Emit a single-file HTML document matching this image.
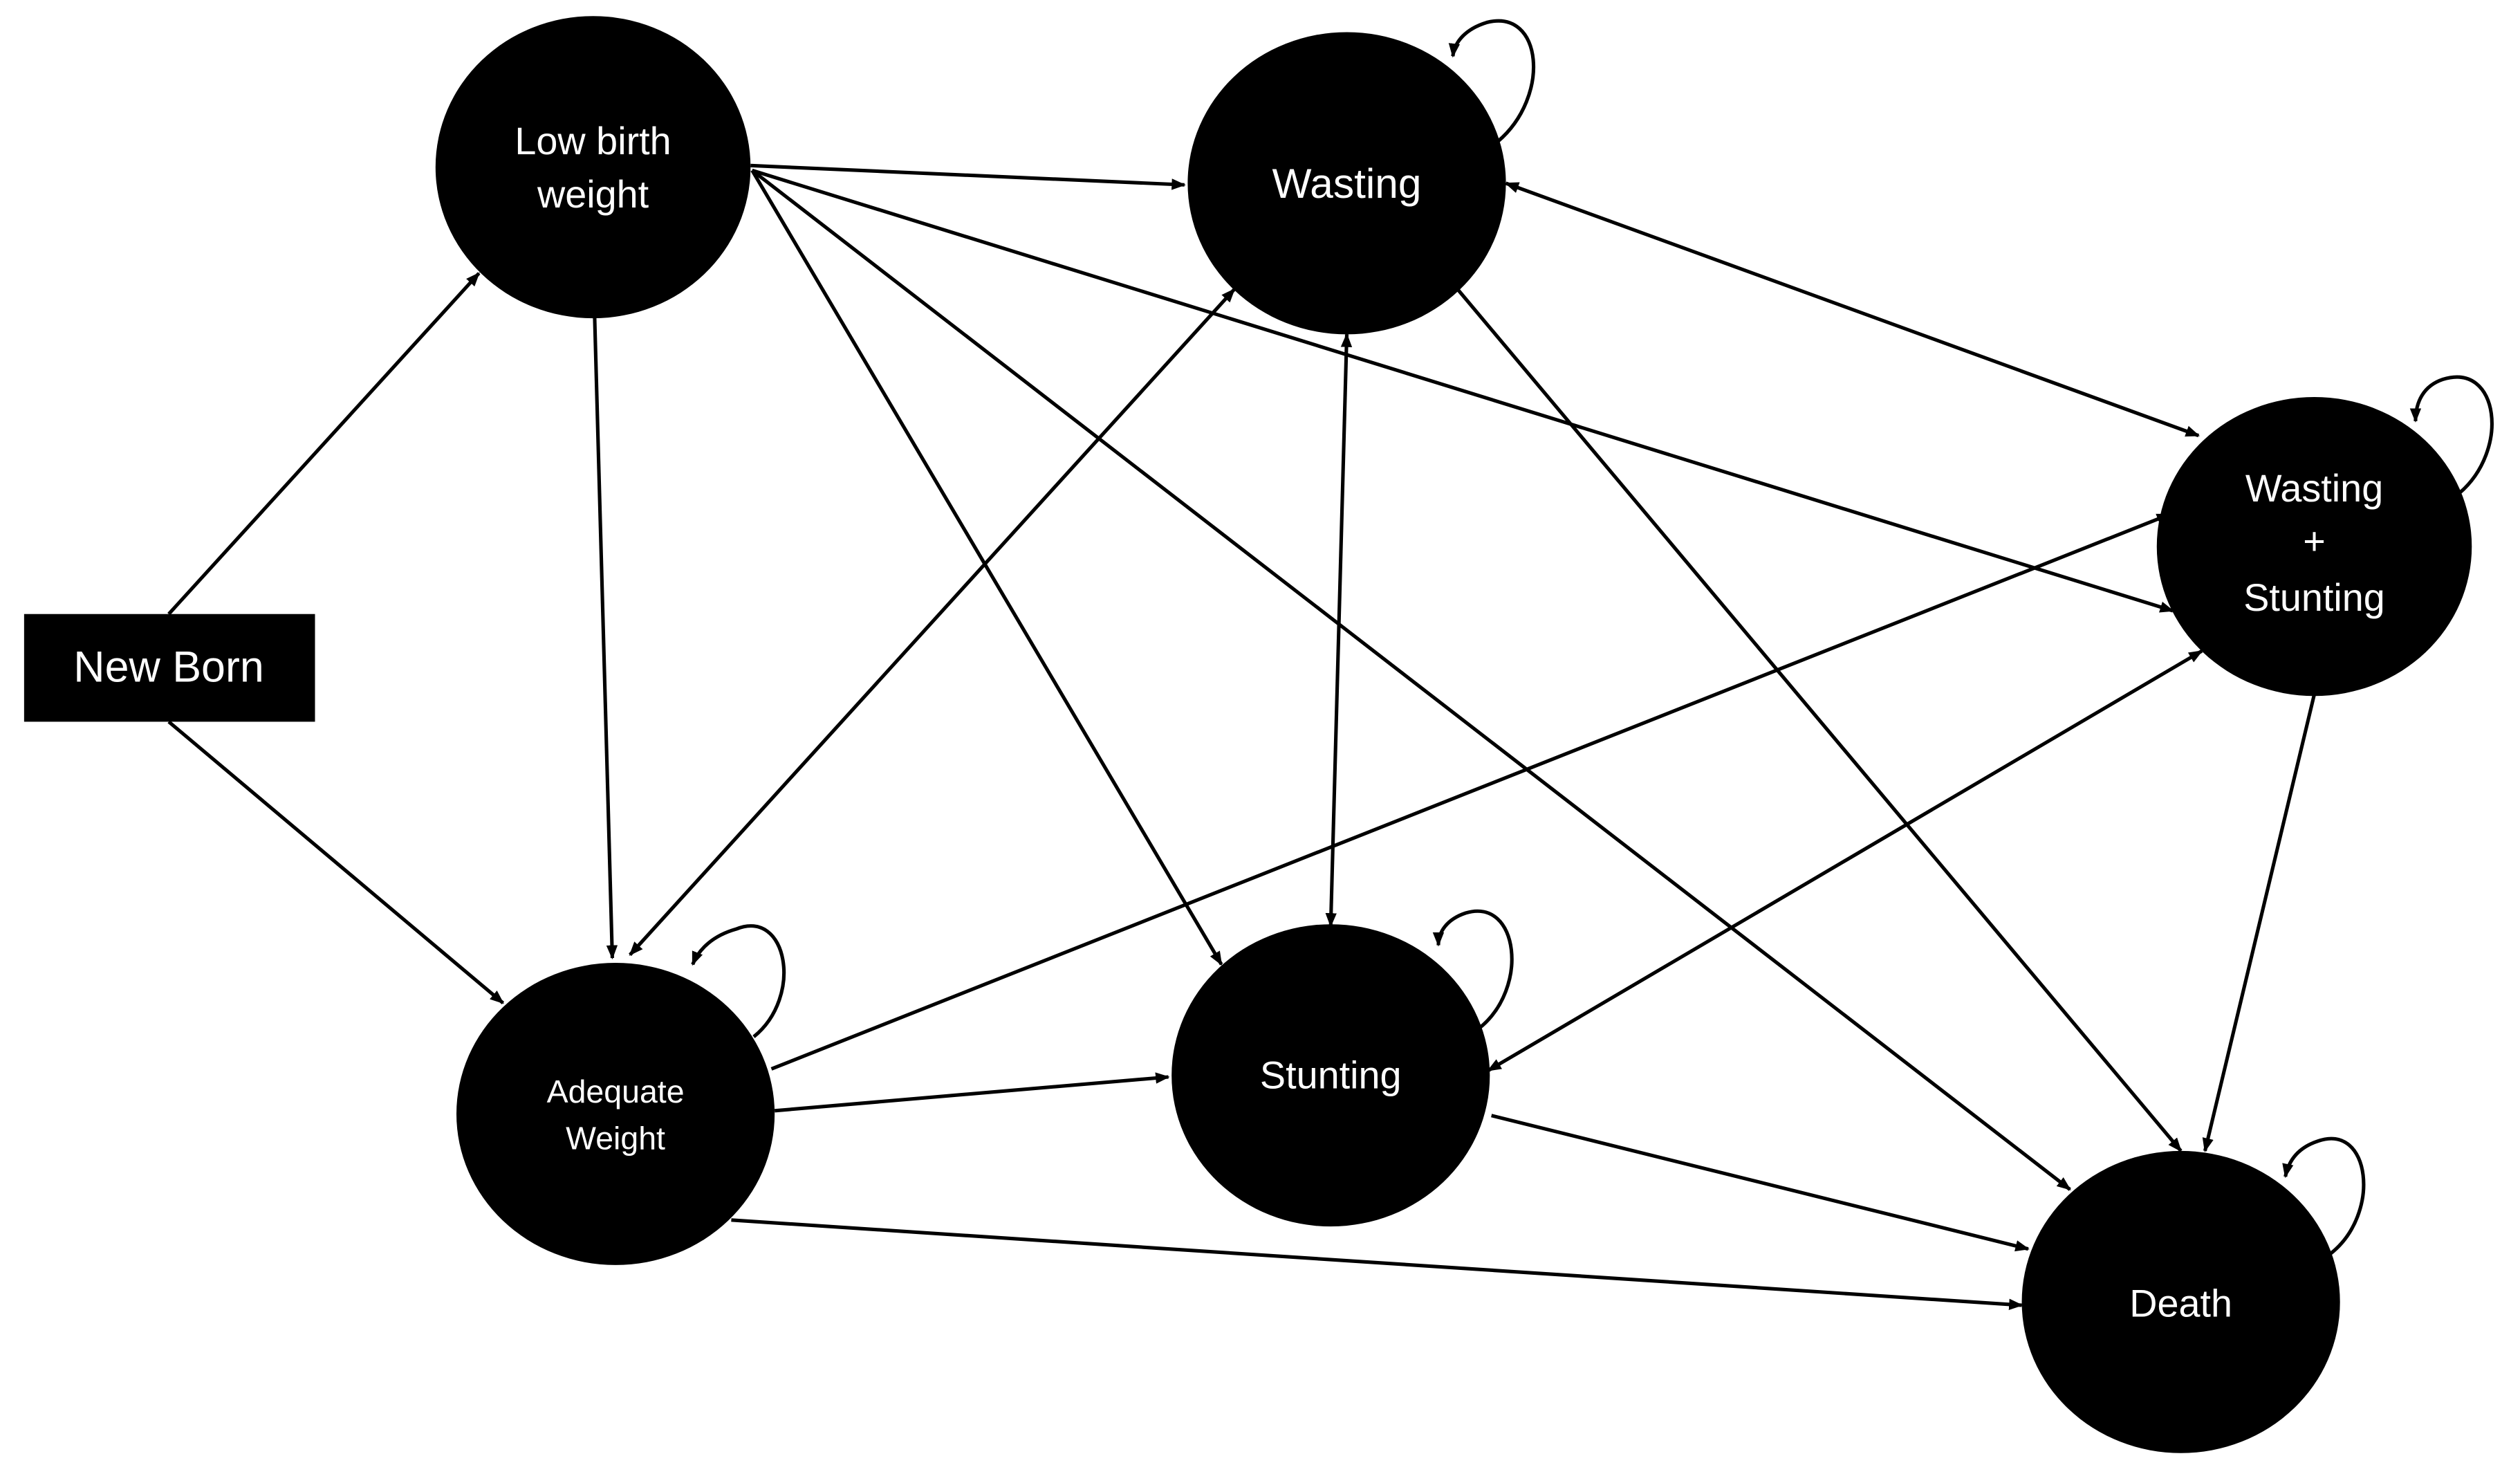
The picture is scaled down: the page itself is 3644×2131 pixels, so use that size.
<!DOCTYPE html>
<html><head><meta charset="utf-8"><style>
html,body{margin:0;padding:0;background:#fff;}
svg{display:block;}
text{font-family:"Liberation Sans",sans-serif;fill:#fff;text-anchor:middle;}
</style></head><body>
<svg width="3644" height="2131" viewBox="0 0 1568 917" preserveAspectRatio="none" xmlns="http://www.w3.org/2000/svg">
<defs>
<marker id="a" viewBox="0 0 10 10" refX="9" refY="5" markerWidth="4" markerHeight="4" orient="auto-start-reverse" markerUnits="strokeWidth">
<path d="M0,1 L10,5 L0,9 z" fill="#000"/></marker>
</defs>
<rect width="1568" height="917" fill="#fff"/>
<g stroke="#000" stroke-width="2.2" fill="none" marker-end="url(#a)">
<line x1="105" y1="382" x2="298" y2="170"/>
<line x1="105" y1="449" x2="313" y2="624"/>
<line x1="467" y1="103" x2="737" y2="115"/>
<line x1="370" y1="197" x2="381" y2="596"/>
<line x1="468" y1="106" x2="760" y2="600"/>
<line x1="468" y1="106" x2="1288" y2="740"/>
<line x1="468" y1="106" x2="1352" y2="380"/>
<line x1="768" y1="180" x2="392" y2="594" marker-start="url(#a)"/>
<line x1="838" y1="208" x2="828" y2="576" marker-start="url(#a)"/>
<line x1="937" y1="114" x2="1368" y2="271" marker-start="url(#a)"/>
<line x1="907" y1="180" x2="1357" y2="716"/>
<line x1="1440" y1="432" x2="1372" y2="716"/>
<line x1="1370" y1="405" x2="926" y2="666" marker-start="url(#a)"/>
<line x1="480" y1="665" x2="1350" y2="320"/>
<line x1="482" y1="691" x2="727" y2="670"/>
<line x1="455" y1="759" x2="1258" y2="812"/>
<line x1="928" y1="694" x2="1262" y2="777"/>
<path d="M932 88 C965 60,960 5,925 14 C912 18,905 26,904 35"/>
<path d="M1530 307 C1562 280,1555 225,1520 236 C1508 240,1503 250,1503 262"/>
<path d="M469 645 C500 620,490 565,458 578 C444 582,435 590,431 600"/>
<path d="M920 640 C952 615,945 558,912 568 C900 572,895 580,895 588"/>
<path d="M1450 780 C1482 755,1475 698,1442 710 C1430 714,1424 722,1422 732"/>
</g>
<rect x="15" y="382" width="181" height="67" fill="#000"/>
<text x="105" y="424" font-size="27">New Born</text>
<ellipse cx="369" cy="104" rx="98" ry="94" fill="#000"/>
<text x="369" y="96" font-size="24">Low birth</text>
<text x="369" y="129" font-size="24">weight</text>
<ellipse cx="838" cy="114" rx="99" ry="94" fill="#000"/>
<text x="838" y="123" font-size="26">Wasting</text>
<ellipse cx="1440" cy="340" rx="98" ry="93" fill="#000"/>
<text x="1440" y="312" font-size="24">Wasting</text>
<text x="1440" y="345" font-size="24">+</text>
<text x="1440" y="380" font-size="24">Stunting</text>
<ellipse cx="383" cy="693" rx="99" ry="94" fill="#000"/>
<text x="383" y="686" font-size="20">Adequate</text>
<text x="383" y="715" font-size="20">Weight</text>
<ellipse cx="828" cy="669" rx="99" ry="94" fill="#000"/>
<text x="828" y="677" font-size="24">Stunting</text>
<ellipse cx="1357" cy="810" rx="99" ry="94" fill="#000"/>
<text x="1357" y="819" font-size="24">Death</text>
</svg>
</body></html>
